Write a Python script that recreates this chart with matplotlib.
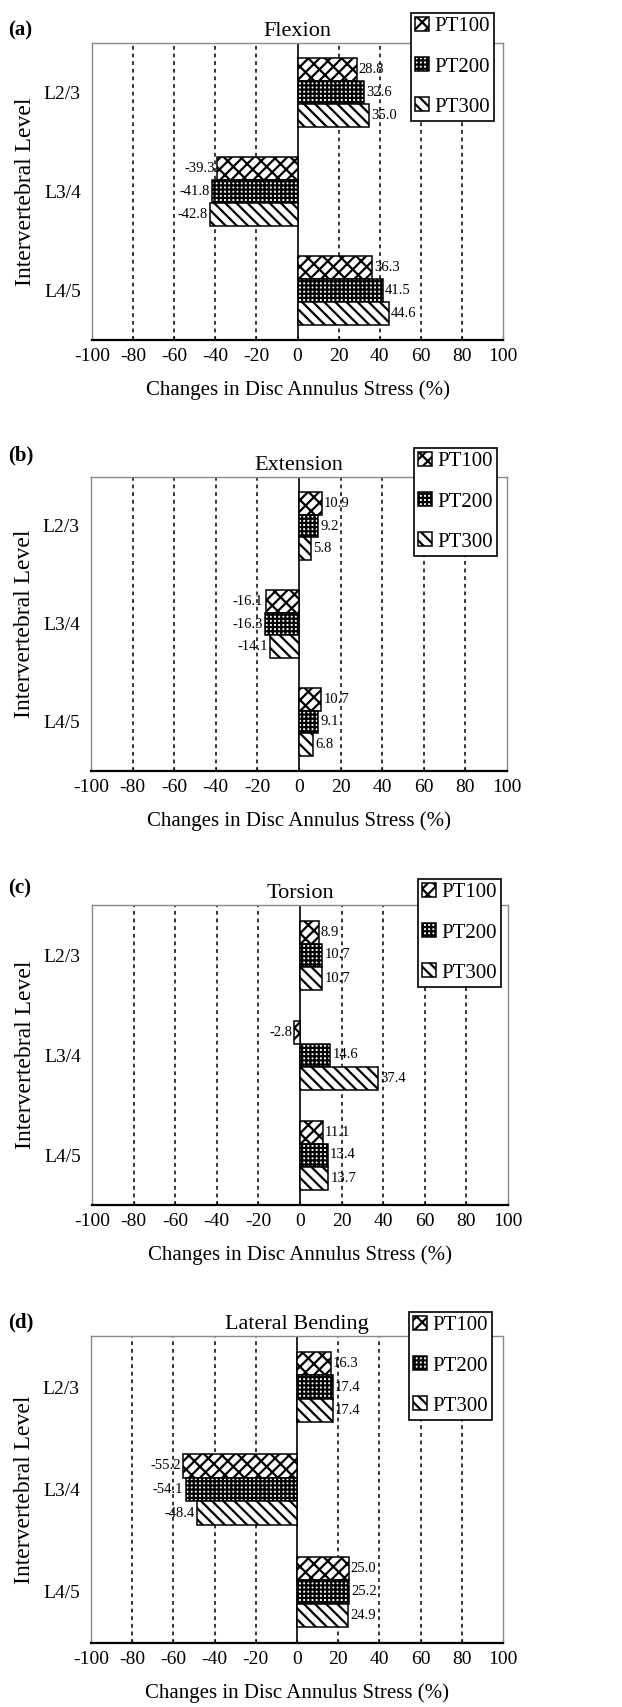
import numpy as np
import matplotlib
matplotlib.use("Agg")
import matplotlib.pyplot as plt

plt.rcParams['font.family'] = ['Liberation Serif', 'DejaVu Serif']
plt.rcParams['hatch.linewidth'] = 1.6

# data
levels = ["L2/3", "L3/4", "L4/5"]
series = ["PT100", "PT200", "PT300"]
panel_letters = ["(a)", "(b)", "(c)", "(d)"]
panel_titles = ["Flexion", "Extension", "Torsion", "Lateral Bending"]

flexion = [[28.8, -39.3, 36.3], [32.6, -41.8, 41.5], [35.0, -42.8, 44.6]]
extension = [[10.9, -16.1, 10.7], [9.2, -16.3, 9.1], [5.8, -14.1, 6.8]]
torsion = [[8.9, -2.8, 11.1], [10.7, 14.6, 13.4], [10.7, 37.4, 13.7]]
lateral = [[16.3, -55.2, 25.0], [17.4, -54.1, 25.2], [17.4, -48.4, 24.9]]
panel_data = [flexion, extension, torsion, lateral]

xticks = np.arange(-100, 101, 20)
hatches = ['///\\\\', '++++', '\\\\\\']

W, H = 622, 1707
# axes boxes in pixels: left, top, right, bottom
boxes = [(92, 43, 503, 340), (91, 477, 507, 771),
         (92, 905, 508, 1205), (91, 1336, 503, 1643)]
# legend upper-right corner in pixels
legend_corners = [(494, 13), (497, 448), (501, 879), (492, 1312)]
letter_pos = [(8, 30), (8, 455), (8, 888), (8, 1322)]


def draw_panel(fig, k):
    l, t, r, b = boxes[k]
    ax = fig.add_axes([l / W, 1 - b / H, (r - l) / W, (b - t) / H])
    data = panel_data[k]
    y = np.arange(len(levels))
    bw = 0.23
    for i, s in enumerate(series):
        vals = np.array(data[i])
        pos = y + (i - 1) * bw
        ax.barh(pos, vals, height=bw, color='white', edgecolor='black',
                linewidth=1.1, hatch=hatches[i], label=s, zorder=3)
        for p, v in zip(pos, vals):
            if v >= 0:
                ax.text(v + 1.0, p, f"{v:.1f}", ha='left', va='center',
                        fontsize=10.5, zorder=4)
            else:
                ax.text(v - 1.0, p, f"{v:.1f}", ha='right', va='center',
                        fontsize=10.5, zorder=4)

    ax.set_xlim(-100, 100)
    ax.set_ylim(2.5, -0.5)
    ax.set_xticks(xticks)
    ax.set_xticklabels([str(v) for v in xticks], fontsize=14)
    ax.set_yticks(y)
    ax.set_yticklabels(levels, fontsize=14)
    ax.tick_params(axis='y', length=0, pad=8)
    ax.tick_params(axis='x', direction='in', length=3, pad=6)

    # dashed vertical grid + solid zero line
    for xv in xticks[1:-1]:
        if xv == 0:
            ax.axvline(0, color='black', lw=1.2, zorder=2)
        else:
            ax.axvline(xv, color='black', lw=1.1, ls=(0, (2.5, 2.5)), zorder=1)

    for side in ['top', 'left', 'right']:
        ax.spines[side].set_color('#8a8a8a')
        ax.spines[side].set_linewidth(1.0)
    ax.spines['bottom'].set_linewidth(1.6)

    ax.set_title(panel_titles[k], fontsize=16, pad=5)
    ax.set_xlabel("Changes in Disc Annulus Stress (%)", fontsize=15, labelpad=11)
    ax.set_ylabel("Intervertebral Level", fontsize=17, labelpad=6)

    lx, ly = legend_corners[k]
    leg = ax.legend(loc='upper right', bbox_to_anchor=(lx / W, 1 - ly / H),
                    bbox_transform=fig.transFigure, fontsize=15, fancybox=False,
                    framealpha=1, edgecolor='black', borderaxespad=0,
                    handlelength=0.65, handleheight=0.65, handletextpad=0.25,
                    labelspacing=1.0, borderpad=0.2)
    leg.get_frame().set_linewidth(1.2)
    leg.set_zorder(5)

    px, py = letter_pos[k]
    fig.text(px / W, 1 - py / H, panel_letters[k], fontsize=15,
             fontweight='bold', ha='left', va='center')
    return ax


fig = plt.figure(figsize=(W / 100, H / 100), dpi=100)
for k in range(4):
    draw_panel(fig, k)

fig.savefig("out.png", dpi=100)
